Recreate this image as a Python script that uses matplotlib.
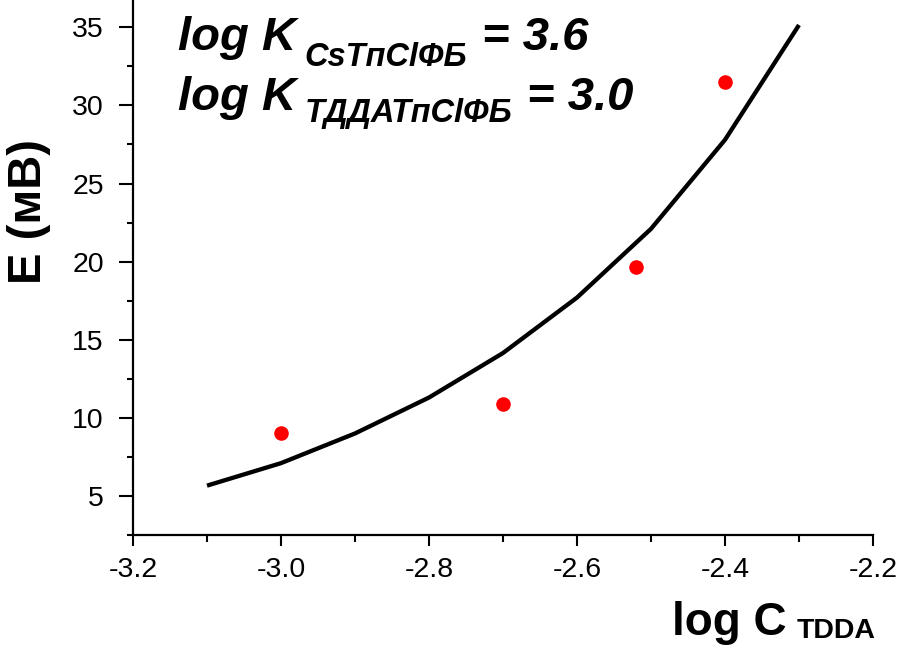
import matplotlib
matplotlib.use("Agg")
import matplotlib.pyplot as plt
from matplotlib.ticker import MultipleLocator

plt.rcParams['font.family'] = ['Liberation Sans', 'DejaVu Sans']

# model curve
logc_fit = [-3.1, -3.0, -2.9, -2.8, -2.7, -2.6, -2.5, -2.4, -2.3]
e_fit = [5.66, 7.1, 9.0, 11.3, 14.15, 17.7, 22.1, 27.8, 35.15]

# experimental points
logc_exp = [-3.0, -2.7, -2.52, -2.4]
e_exp = [9.03, 10.89, 19.66, 31.5]

xticks = [-3.2, -3.0, -2.8, -2.6, -2.4, -2.2]
yticks = [5, 10, 15, 20, 25, 30, 35]

fig = plt.figure(figsize=(9.12, 6.45), dpi=100)
ax = fig.add_axes([133/912, 110/645, 740/912, 535/645])

ax.plot(logc_fit, e_fit, color='black', lw=3.1, solid_capstyle='butt')
ax.plot(logc_exp, e_exp, 'o', color='#ff0000', ms=10.5, mec='none')

ax.set_xlim(-3.2, -2.2)
ax.set_ylim(2.5, 36.75)
ax.set_xticks(xticks)
ax.set_xticklabels([f"{v:.1f}" for v in xticks])
ax.set_yticks(yticks)
ax.xaxis.set_minor_locator(MultipleLocator(0.1))
ax.yaxis.set_minor_locator(MultipleLocator(2.5))

for s in ['top', 'right']:
    ax.spines[s].set_visible(False)
for s in ['left', 'bottom']:
    ax.spines[s].set_linewidth(1.6)

ax.tick_params(which='major', width=1.5, labelsize=20.5, direction='out')
ax.tick_params(which='minor', width=1.5, direction='out')
ax.tick_params(axis='y', which='major', length=10, pad=11)
ax.tick_params(axis='y', which='minor', length=4.5)
ax.tick_params(axis='x', which='major', length=8, pad=8)
ax.tick_params(axis='x', which='minor', length=5)

# y label
fig.text(29/912, 1 - 211/645, 'E (мВ)', rotation=90, fontsize=34, fontweight='bold',
         ha='center', va='center')

# x label: log C_TDDA
xl = fig.text(672/912, 1 - 635/645, 'log C', fontsize=33, fontweight='bold',
              ha='left', va='baseline')
ax.annotate('TDDA', xy=(1, 1 - 638/645), xycoords=(xl, 'figure fraction'),
            xytext=(7, 0), textcoords='offset points', fontsize=20.5, fontweight='bold',
            ha='left', va='baseline', annotation_clip=False)

# annotation lines
lines = [('CsTпClФБ', '= 3.6', 50, 16), ('ТДДАТпClФБ', '= 3.0', 110, 12)]
for sub, val, base, drop in lines:
    t1 = fig.text(178/912, 1 - base/645, 'log K', fontsize=34, fontweight='bold',
                  fontstyle='italic', ha='left', va='baseline')
    t2 = ax.annotate(sub, xy=(1, 1 - (base + drop)/645), xycoords=(t1, 'figure fraction'),
                     xytext=(6, 0), textcoords='offset points', fontsize=23.5,
                     fontweight='bold', fontstyle='italic', ha='left', va='baseline',
                     annotation_clip=False)
    ax.annotate(val, xy=(1, 1 - base/645), xycoords=(t2, 'figure fraction'),
                xytext=(11, 0), textcoords='offset points', fontsize=34,
                fontweight='bold', fontstyle='italic', ha='left', va='baseline',
                annotation_clip=False)

fig.savefig('out.png', dpi=100)
